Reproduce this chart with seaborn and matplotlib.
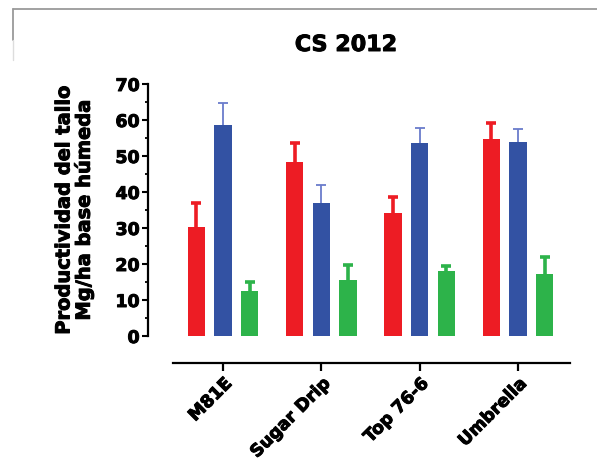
import matplotlib
matplotlib.use("Agg")
import matplotlib.pyplot as plt
import matplotlib.patheffects as pe
from matplotlib.lines import Line2D
from matplotlib.ticker import MultipleLocator
import seaborn as sns
import pandas as pd

# ---- data ----
categories = ["M81E", "Sugar Drip", "Top 76-6", "Umbrella"]
series = ["Serie 1", "Serie 2", "Serie 3"]
red_vals = [30.4, 48.2, 34.2, 54.7]
blue_vals = [58.6, 36.9, 53.6, 53.8]
green_vals = [12.6, 15.6, 18.1, 17.1]
red_err = [6.5, 5.5, 4.5, 4.6]
blue_err = [6.2, 5.1, 4.1, 3.7]
green_err = [2.5, 4.0, 1.3, 4.9]
title = "CS 2012"
ylabel = "Productividad del tallo\nMg/ha base húmeda"
yticks = [0, 10, 20, 30, 40, 50, 60, 70]

colors = ["#ED1C24", "#3352A3", "#2DB34A"]
err_colors = ["#ED1C24", "#6A7CCB", "#2DB34A"]
err_lw = [2.6, 1.3, 2.6]

rows = []
for s, vals, errs in zip(series, [red_vals, blue_vals, green_vals],
                         [red_err, blue_err, green_err]):
    for c, v, e in zip(categories, vals, errs):
        rows.append({"cat": c, "serie": s, "val": v, "err": e})
df = pd.DataFrame(rows)

sns.set_style("ticks", {"axes.edgecolor": "black", "text.color": "black",
                        "xtick.color": "black", "ytick.color": "black",
                        "axes.labelcolor": "black"})
plt.rcParams["font.family"] = ["DejaVu Sans"]
plt.rcParams["font.weight"] = "bold"

heavy = [pe.withStroke(linewidth=0.7, foreground="black")]

W, H = 597, 470
fig = plt.figure(figsize=(W / 100, H / 100), dpi=100)
ax = fig.add_axes([148 / W, 1 - 336 / H, (575 - 148) / W, (336 - 84) / H])

sns.barplot(data=df, x="cat", y="val", hue="serie", order=categories,
            hue_order=series, palette=colors, width=0.81, gap=0.35,
            errorbar=None, legend=False, ax=ax, linewidth=0,
            saturation=1)

# error bars (upper only), colored per series
for i, s in enumerate(series):
    cont = ax.containers[i]
    sub = df[df.serie == s].set_index("cat").loc[categories]
    xs = [p.get_x() + p.get_width() / 2 for p in cont.patches]
    hs = [p.get_height() for p in cont.patches]
    tops = [h + e for h, e in zip(hs, sub["err"])]
    ax.vlines(xs, hs, tops, colors=err_colors[i], linewidth=err_lw[i],
              zorder=1)
    ax.plot(xs, tops, linestyle="none", marker="_", markersize=7.5,
            markeredgewidth=err_lw[i], color=err_colors[i], zorder=1)

ax.set_ylim(0, 70)
ax.set_xlim(-0.763, 3.58)
ax.set_yticks(yticks)
ax.yaxis.set_minor_locator(MultipleLocator(5))

sns.despine(ax=ax)
ax.spines["left"].set_bounds(0, 70)
ax.spines["left"].set_linewidth(1.6)
ax.spines["bottom"].set_linewidth(1.6)
ax.spines["bottom"].set_position(("outward", 19.5))
ax.spines["bottom"].set_bounds(-0.51, 3.53)

ax.tick_params(axis="y", which="major", length=4, width=1.5, labelsize=12.5,
               pad=2)
ax.tick_params(axis="y", which="minor", length=2.5, width=1.3)
ax.tick_params(axis="x", which="major", length=6, width=1.6, labelsize=12.5,
               pad=2)
for lab in ax.get_yticklabels():
    lab.set_fontweight("bold")
    lab.set_path_effects(heavy)
plt.setp(ax.get_xticklabels(), rotation=45, ha="right",
         rotation_mode="anchor", fontweight="bold", path_effects=heavy)

ax.set_xlabel("")
ax.set_ylabel(ylabel, fontsize=14, fontweight="bold", linespacing=1.02,
              path_effects=heavy)
ax.yaxis.set_label_coords(-0.127, 0.5)

fig.text(346 / W, 1 - 45 / H, title, ha="center", va="center",
         fontsize=16, fontweight="bold", path_effects=heavy)

# screenshot frame lines
fig.add_artist(Line2D([13 / W, 1], [1 - 9 / H, 1 - 9 / H],
                      transform=fig.transFigure, color="#9a9a9a", lw=1.3))
fig.add_artist(Line2D([13 / W, 13 / W], [1 - 9 / H, 1 - 40 / H],
                      transform=fig.transFigure, color="#9a9a9a", lw=1.3))
fig.add_artist(Line2D([13 / W, 13 / W], [1 - 40 / H, 1 - 60 / H],
                      transform=fig.transFigure, color="#dddddd", lw=1.0))

fig.savefig("out.png", dpi=100)
